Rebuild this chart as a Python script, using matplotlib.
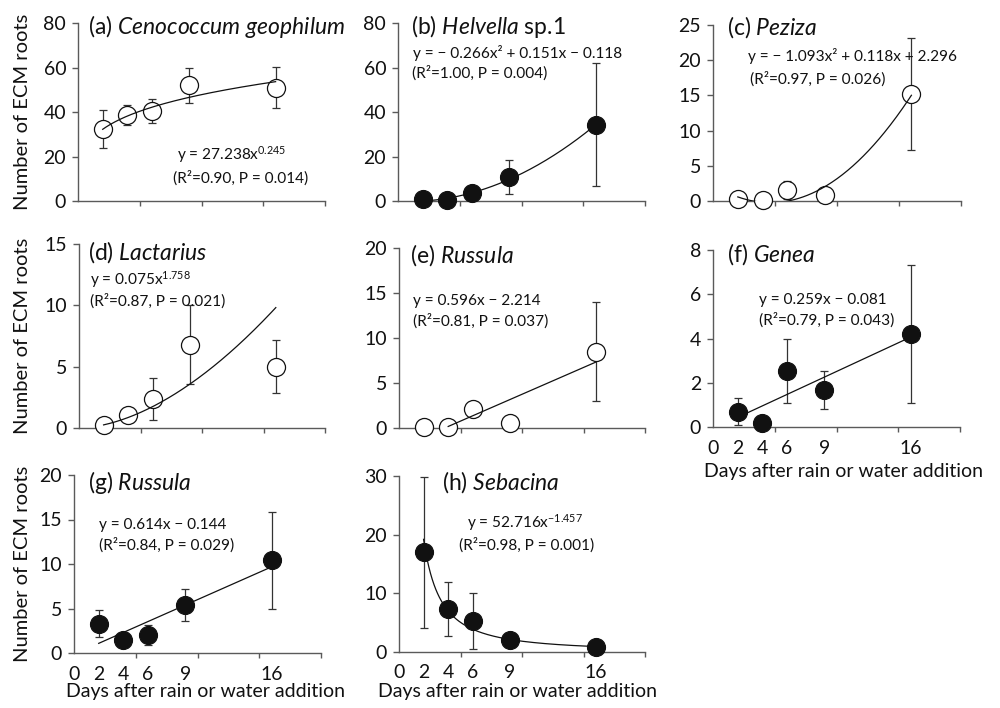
import numpy as np
import matplotlib
matplotlib.use("Agg")
import matplotlib.pyplot as plt
from matplotlib.ticker import FixedLocator, NullFormatter, FixedFormatter

# ---------------- data ----------------
days = [2, 4, 6, 9, 16]
xtick_pos = [0, 2, 4, 6, 9, 16]
xtick_labels = ["0", "2", "4", "6", "9", "16"]

letters = ["(a)", "(b)", "(c)", "(d)", "(e)", "(f)", "(g)", "(h)"]
taxa_italic = ["Cenococcum geophilum", "Helvella", "Peziza", "Lactarius",
               "Russula", "Genea", "Russula", "Sebacina"]
taxa_suffix = ["", " sp.1", "", "", "", "", "", ""]

a_mean = [32.5, 38.5, 40.5, 52.0, 51.0]
a_err = [8.5, 4.5, 5.5, 8.0, 9.3]
b_mean = [0.9, 0.45, 3.7, 10.8, 34.3]
b_err = [0.0, 0.0, 0.0, 7.6, 27.7]
c_mean = [0.25, 0.15, 1.6, 0.8, 15.2]
c_err = [0.0, 0.0, 1.3, 0.0, 7.9]
d_mean = [0.25, 1.05, 2.35, 6.8, 5.0]
d_err = [0.0, 0.0, 1.7, 3.2, 2.15]
e_mean = [0.1, 0.1, 2.1, 0.6, 8.5]
e_err = [0.0, 0.0, 0.0, 0.0, 5.5]
f_mean = [0.7, 0.18, 2.55, 1.68, 4.2]
f_err = [0.6, 0.0, 1.45, 0.87, 3.12]
g_mean = [3.3, 1.45, 2.0, 5.4, 10.4]
g_err = [1.5, 0.0, 1.15, 1.8, 5.4]
h_mean = [17.0, 7.3, 5.3, 2.1, 0.9]
h_err = [12.9, 4.6, 4.8, 0.0, 0.0]

means = [a_mean, b_mean, c_mean, d_mean, e_mean, f_mean, g_mean, h_mean]
errs = [a_err, b_err, c_err, d_err, e_err, f_err, g_err, h_err]
filled = [False, True, False, False, False, True, True, True]

# fitted trendlines (type, coefficients, start day)
fit_types = ["power", "quad", "quad", "power", "linear", "linear", "linear", "power"]
fit_coefs = [(27.238, 0.245), (0.151, -0.266, -0.118), (0.118, -1.093, 2.296),
             (0.075, 1.758), (0.596, -2.214), (0.259, -0.081), (0.614, -0.144),
             (52.716, -1.457)]
fit_start = [2, 2, 2, 2, 4, 2, 2, 2]

eq_line1 = ["y = 27.238x$^{\\mathregular{0.245}}$",
            "y = \u2212 0.266x\u00b2 + 0.151x \u2212 0.118",
            "y = \u2212 1.093x\u00b2 + 0.118x + 2.296",
            "y = 0.075x$^{\\mathregular{1.758}}$",
            "y = 0.596x \u2212 2.214",
            "y = 0.259x \u2212 0.081",
            "y = 0.614x \u2212 0.144",
            "y = 52.716x$^{\\mathregular{\u22121.457}}$"]
eq_line2 = ["(R\u00b2=0.90, P = 0.014)", "(R\u00b2=1.00, P = 0.004)",
            "(R\u00b2=0.97, P = 0.026)", "(R\u00b2=0.87, P = 0.021)",
            "(R\u00b2=0.81, P = 0.037)", "(R\u00b2=0.79, P = 0.043)",
            "(R\u00b2=0.84, P = 0.029)", "(R\u00b2=0.98, P = 0.001)"]

ymax = [80, 80, 25, 15, 20, 8, 20, 30]
ystep = [20, 20, 5, 5, 5, 2, 5, 10]
ylabel_text = "Number of ECM roots"
xlabel_text = "Days after rain or water addition"

# ---------------- layout (pixels) ----------------
W, H = 1000, 708
rects = [(78, 325, 23.3, 201), (398, 645, 23.3, 201), (713, 961, 25, 201),
         (79, 325, 244, 428), (399, 645, 248, 428), (713, 960, 250, 427),
         (74, 321, 475, 653), (399, 645, 476, 652)]
title_xy = [(88, 27), (411, 27), (727, 27), (88, 252), (410, 255), (727, 254),
            (88, 482), (442, 482)]
eq1_xy = [(177, 155), (413, 53), (748, 56), (90, 280), (413, 301), (759, 300),
          (99, 525), (467, 523)]
eq2_xy = [(173, 178), (412, 73), (750, 79), (90, 301), (413, 321), (759, 320),
          (99, 545), (459, 545)]
ylabel_rows = [0, 3, 6]
xlabel_panels = [5, 6, 7]
xlabel_xy = {5: (844, 472), 6: (206, 692), 7: (518, 692)}

plt.rcParams['font.family'] = ['Lato', 'DejaVu Sans']
plt.rcParams['mathtext.fontset'] = 'custom'
plt.rcParams['mathtext.rm'] = 'Lato'
plt.rcParams['mathtext.it'] = 'Lato:italic'
plt.rcParams['mathtext.bf'] = 'Lato:bold'

AXC = '#5a5a5a'
TXT = '#111111'
EQ_FS = 11.1
TITLE_FS = 16.5

fig = plt.figure(figsize=(W / 100, H / 100), dpi=100)


def fx(x):
    return x / W


def fy(y):
    return 1 - y / H


for i in range(8):
    x0, x1, y0, y1 = rects[i]
    ax = fig.add_axes([fx(x0), fy(y1), (x1 - x0) / W, (y1 - y0) / H])
    ax.set_xlim(0, 20)
    ax.set_ylim(0, ymax[i])
    for s in ['top', 'right']:
        ax.spines[s].set_visible(False)
    for s in ['left', 'bottom']:
        ax.spines[s].set_color(AXC)
        ax.spines[s].set_linewidth(1.0)
    ax.yaxis.set_major_locator(FixedLocator(np.arange(0, ymax[i] + 0.01, ystep[i])))
    ax.tick_params(axis='y', direction='out', length=4.5, width=1.0, color=AXC,
                   labelsize=14, labelcolor=TXT, pad=4)
    ax.xaxis.set_major_locator(FixedLocator([5, 10, 15, 20]))
    ax.xaxis.set_major_formatter(NullFormatter())
    ax.tick_params(axis='x', which='major', direction='out', length=3.5, width=1.0,
                   color=AXC)
    if i in xlabel_panels:
        ax.xaxis.remove_overlapping_locs = False
        ax.xaxis.set_minor_locator(FixedLocator(xtick_pos))
        ax.xaxis.set_minor_formatter(FixedFormatter(xtick_labels))
        ax.tick_params(axis='x', which='minor', length=0, labelsize=14,
                       labelcolor=TXT, pad=9)
        lx, ly = xlabel_xy[i]
        fig.text(fx(lx), fy(ly), xlabel_text, fontsize=14, color=TXT,
                 ha='center', va='center')

    # error bars + markers
    ax.errorbar(days, means[i], yerr=errs[i], fmt='none', ecolor='#333333',
                elinewidth=0.9, capsize=3, capthick=0.9, zorder=2)
    if filled[i]:
        ax.plot(days, means[i], 'o', ms=13, mfc='#111111', mec='#111111',
                mew=0.8, zorder=3, clip_on=False)
    else:
        ax.plot(days, means[i], 'o', ms=13, mfc='white', mec='#111111',
                mew=0.9, zorder=3, clip_on=False)

    # trendline
    xs = np.linspace(fit_start[i], 16, 200)
    c = fit_coefs[i]
    if fit_types[i] == 'power':
        ys = c[0] * xs ** c[1]
    elif fit_types[i] == 'quad':
        ys = c[0] * xs ** 2 + c[1] * xs + c[2]
    else:
        ys = c[0] * xs + c[1]
    ax.plot(xs, ys, color='#111111', lw=0.9, zorder=4)

    # texts
    tx, ty = title_xy[i]
    words = taxa_italic[i].split(' ')
    ital = ' '.join('$\\mathit{%s}$' % w for w in words)
    fig.text(fx(tx), fy(ty), letters[i] + ' ' + ital + taxa_suffix[i],
             fontsize=TITLE_FS, color=TXT, ha='left', va='center')
    ex, ey = eq1_xy[i]
    fig.text(fx(ex), fy(ey), eq_line1[i], fontsize=EQ_FS, color=TXT,
             ha='left', va='center')
    ex, ey = eq2_xy[i]
    fig.text(fx(ex), fy(ey), eq_line2[i], fontsize=EQ_FS, color=TXT,
             ha='left', va='center')

for i in ylabel_rows:
    x0, x1, y0, y1 = rects[i]
    fig.text(fx(23), fy((y0 + y1) / 2), ylabel_text, rotation=90, fontsize=14.5,
             color=TXT, ha='center', va='center')

fig.savefig('out.png', dpi=100)
